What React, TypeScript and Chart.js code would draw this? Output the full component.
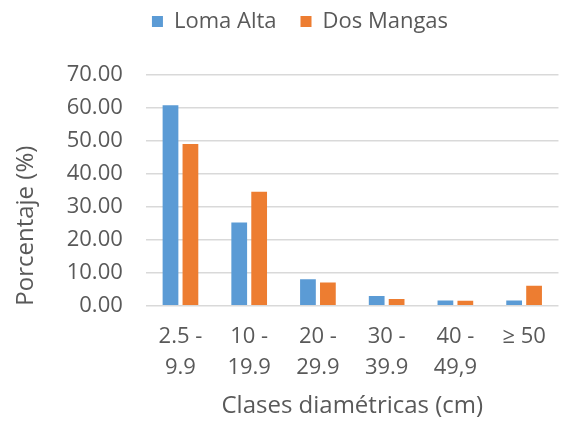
import React, { useEffect, useRef } from 'react';
import { Chart, registerables } from 'chart.js';

Chart.register(...registerables);

const categories: (string | string[])[] = [
  ['2.5 -', '9.9'],
  ['10 -', '19.9'],
  ['20 -', '29.9'],
  ['30 -', '39.9'],
  ['40 -', '49,9'],
  '≥ 50',
];
const seriesNames = ['Loma Alta', 'Dos Mangas'];
const lomaAlta = [60.6, 25.2, 8.0, 2.9, 1.6, 1.6];
const dosMangas = [48.9, 34.5, 7.0, 2.0, 1.5, 6.0];
const yMin = 0;
const yMax = 70;
const yStep = 10;
const xTitle = 'Clases diamétricas (cm)';
const yTitle = 'Porcentaje (%)';

const TEXT = '#595959';
const FONT = "'Open Sans', sans-serif";

export default function App() {
  const ref = useRef<HTMLCanvasElement>(null);

  useEffect(() => {
    if (!ref.current) return;
    const legendSpacer = {
      id: 'legendSpacer',
      beforeLayout(chart: any) {
        const lg = chart.legend;
        if (lg && !lg.__patched) {
          const orig = lg.fit;
          lg.fit = function () {
            orig.call(this);
            this.height += 31.8;
          };
          lg.__patched = true;
        }
      },
    };
    const chart = new Chart(ref.current, {
      type: 'bar',
      data: {
        labels: categories as any,
        datasets: [
          {
            label: seriesNames[0],
            data: lomaAlta,
            backgroundColor: '#5B9BD5',
            borderWidth: 0,
          },
          {
            label: seriesNames[1],
            data: dosMangas,
            backgroundColor: '#ED7D31',
            borderWidth: 0,
          },
        ],
      },
      options: {
        responsive: false,
        animation: false,
        devicePixelRatio: 1,
        datasets: {
          bar: { categoryPercentage: 0.58, barPercentage: 0.79 },
        },
        layout: { padding: { left: 40, right: 2, top: -13.5, bottom: 0 } },
        plugins: {
          tooltip: { enabled: false },
          legend: {
            position: 'top',
            labels: {
              boxWidth: 11,
              boxHeight: 11,
              padding: 24,
              color: TEXT,
              font: { family: FONT, size: 22 },
            },
          },
        },
        scales: {
          x: {
            grid: { display: false, drawTicks: false },
            border: { display: false },
            ticks: {
              color: TEXT,
              font: { family: FONT, size: 22, lineHeight: 1.4 },
              padding: 16,
              maxRotation: 0,
              autoSkip: false,
            },
            title: {
              display: true,
              text: xTitle,
              color: TEXT,
              font: { family: FONT, size: 24, lineHeight: 1.2 },
              padding: { top: -7.1, bottom: 0 },
            },
          },
          y: {
            min: yMin,
            max: yMax,
            grid: { color: '#d9d9d9', lineWidth: 1.5, drawTicks: false },
            border: { display: false },
            ticks: {
              stepSize: yStep,
              color: TEXT,
              font: { family: FONT, size: 22 },
              padding: 23.3,
              callback: (v: any) => Number(v).toFixed(2),
            },
            title: {
              display: true,
              text: yTitle,
              align: 'start',
              color: TEXT,
              font: { family: FONT, size: 24, lineHeight: 1.2 },
              padding: { top: -28.4, bottom: 3 },
            },
          },
        },
      },
      plugins: [legendSpacer],
    });
    return () => chart.destroy();
  }, []);

  return (
    <div style={{ position: 'fixed', left: 0, top: 0, width: 562, height: 421 }}>
      <canvas ref={ref} width={562} height={421} style={{ display: 'block' }} />
    </div>
  );
}
